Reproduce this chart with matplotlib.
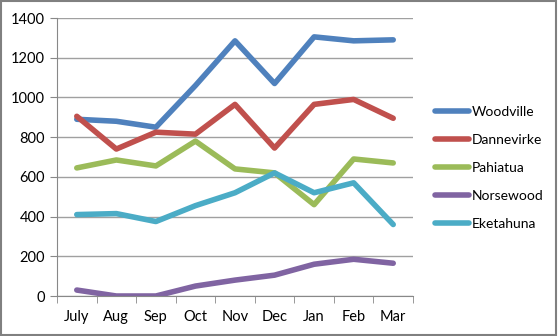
import matplotlib.pyplot as plt
from matplotlib.patches import Rectangle

# Monthly figures per town
months = ['July', 'Aug', 'Sep', 'Oct', 'Nov', 'Dec', 'Jan', 'Feb', 'Mar']
woodville = [890, 880, 850, 1060, 1285, 1070, 1305, 1285, 1290]
dannevirke = [905, 740, 825, 815, 965, 745, 965, 990, 895]
pahiatua = [645, 685, 655, 780, 640, 620, 460, 690, 670]
norsewood = [30, 0, 0, 50, 80, 105, 160, 185, 165]
eketahuna = [410, 415, 375, 455, 520, 620, 520, 570, 360]

series = [
    ('Woodville', woodville, '#4F81BD'),
    ('Dannevirke', dannevirke, '#C0504D'),
    ('Pahiatua', pahiatua, '#9BBB59'),
    ('Norsewood', norsewood, '#8064A2'),
    ('Eketahuna', eketahuna, '#4BACC6'),
]

plt.rcParams['font.family'] = ['Lato', 'DejaVu Sans']

fig = plt.figure(figsize=(5.58, 3.36), dpi=100)
ax = fig.add_axes([57 / 558, 40 / 336, 356 / 558, 278 / 336])

x = range(len(months))
for name, vals, color in series:
    ax.plot(x, vals, color=color, lw=4, label=name, solid_capstyle='round')

ax.set_ylim(0, 1400)
ax.set_yticks(range(0, 1401, 200))
ax.set_xlim(-0.5, len(months) - 0.5)
ax.set_xticks(list(x))
ax.set_xticklabels(months)
ax.set_xticks([i + 0.5 for i in range(-1, len(months))], minor=True)
ax.grid(axis='y', color='#A0A0A0', lw=1)
ax.set_axisbelow(True)
ax.tick_params(axis='x', which='major', length=0, pad=10, labelsize=10.5)
ax.tick_params(axis='x', which='minor', length=5, color='#888888')
ax.tick_params(axis='y', length=5, color='#888888', labelsize=10.5)
for s in ['top', 'right']:
    ax.spines[s].set_visible(False)
for s in ['left', 'bottom']:
    ax.spines[s].set_color('#888888')

fig.legend(loc='center left', bbox_to_anchor=(422 / 558, 0.5), frameon=False,
           fontsize=10, handlelength=2.5, handletextpad=0.15, labelspacing=1.15)

# outer chart border
fig.patches.append(Rectangle((0.002, 0.003), 0.995, 0.994, transform=fig.transFigure,
                             fill=False, edgecolor='#808080', lw=1.5))

fig.savefig('out.png', dpi=100)
